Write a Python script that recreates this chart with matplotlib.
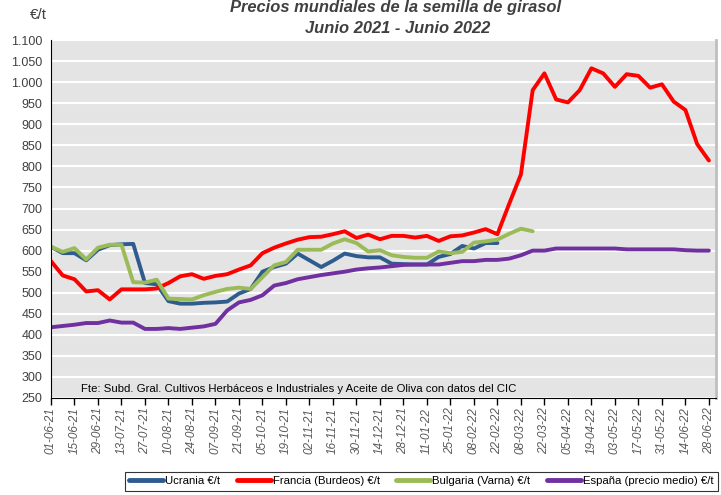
import matplotlib
matplotlib.use("Agg")
import matplotlib.pyplot as plt
from matplotlib.ticker import FuncFormatter, MultipleLocator

# weekly dates, labelled every two weeks
fechas = ["01-06-21", "15-06-21", "29-06-21", "13-07-21", "27-07-21", "10-08-21",
          "24-08-21", "07-09-21", "21-09-21", "05-10-21", "19-10-21", "02-11-21",
          "16-11-21", "30-11-21", "14-12-21", "28-12-21", "11-01-22", "25-01-22",
          "08-02-22", "22-02-22", "08-03-22", "22-03-22", "05-04-22", "19-04-22",
          "03-05-22", "17-05-22", "31-05-22", "14-06-22", "28-06-22"]

ucrania = [609, 594, 594, 577, 602, 613, 615, 616, 523, 520, 480, 474, 474, 476,
           477, 479, 498, 509, 550, 561, 569, 593, 577, 561, 576, 593, 587, 584,
           584, 569, 568, 567, 567, 585, 592, 611, 605, 618, 618]

francia = [575, 541, 532, 503, 506, 484, 508, 508, 508, 510, 523, 539, 544, 533,
           540, 544, 555, 565, 594, 607, 617, 626, 632, 633, 639, 646, 630, 638,
           627, 635, 635, 631, 635, 623, 634, 636, 643, 651, 639, 711, 781, 981,
           1021, 959, 952, 981, 1033, 1021, 989, 1019, 1015, 987, 995, 954, 934,
           853, 814]

bulgaria = [609, 597, 606, 579, 607, 614, 614, 525, 524, 531, 486, 485, 484, 494,
            502, 509, 512, 509, 537, 565, 573, 602, 602, 602, 617, 627, 618, 598,
            601, 589, 585, 583, 583, 598, 594, 597, 619, 622, 626, 640, 652, 646]

espana = [418, 421, 424, 428, 428, 434, 429, 429, 414, 414, 416, 414, 417, 420,
          426, 458, 477, 483, 494, 517, 523, 532, 537, 542, 546, 550, 555, 558,
          560, 563, 566, 567, 567, 567, 571, 575, 575, 578, 578, 581, 589, 600,
          600, 605, 605, 605, 605, 605, 605, 603, 603, 603, 603, 603, 601, 600, 600]

series = [
    ("Ucrania €/t", ucrania, "#2F5C8F"),
    ("Francia (Burdeos) €/t", francia, "#FF0000"),
    ("Bulgaria (Varna) €/t", bulgaria, "#9BBB59"),
    ("España (precio medio) €/t", espana, "#7030A0"),
]

plt.rcParams["font.family"] = ["Liberation Sans", "DejaVu Sans"]

fig = plt.figure(figsize=(7.21, 4.95), dpi=100)
ax = fig.add_axes([0.0707, 0.196, 0.9223, 0.723])
ax.set_facecolor("#E4E4E4")

for nombre, valores, color in series:
    ax.plot(range(len(valores)), valores, color=color, lw=2.8, label=nombre,
            solid_joinstyle="round", solid_capstyle="round")

ax.set_ylim(250, 1100)
ax.set_xlim(0, 56.6)
ax.yaxis.set_major_locator(MultipleLocator(50))
ax.yaxis.set_major_formatter(FuncFormatter(lambda v, p: f"{int(v):,}".replace(",", ".")))
ax.grid(axis="y", color="white", lw=1.5)
ax.set_axisbelow(True)

ax.set_xticks(range(0, 57, 2))
ax.set_xticklabels(fechas, rotation=90, fontstyle="italic", fontsize=8.5, color="#595959")
ax.tick_params(axis="x", direction="out", length=5, width=1, color="black", pad=2)
ax.tick_params(axis="y", length=0, labelsize=9, labelcolor="#404040", pad=6)

ax.spines["top"].set_visible(False)
ax.spines["left"].set_color("black")
ax.spines["bottom"].set_color("black")
ax.spines["right"].set_color("#BFBFBF")
ax.spines["right"].set_linewidth(2)

fig.text(0.548, 0.984, "Precios mundiales de la semilla de girasol", ha="center", va="center",
         fontsize=11.9, fontweight="bold", fontstyle="italic", color="#404040")
fig.text(0.551, 0.943, "Junio 2021 - Junio 2022", ha="center", va="center",
         fontsize=11.9, fontweight="bold", fontstyle="italic", color="#404040")
fig.text(0.053, 0.97, "€/t", ha="center", va="center", fontsize=11, color="#404040")

ax.text(0.045, 0.024, "Fte: Subd. Gral. Cultivos Herbáceos e Industriales y Aceite de Oliva con datos del CIC",
        transform=ax.transAxes, fontsize=8.2, color="black", ha="left", va="center")

leg = fig.legend(loc="upper left", bbox_to_anchor=(0.173, 0.047), ncol=4, fontsize=8.2,
                 frameon=True, fancybox=False, edgecolor="black", handlelength=3.0,
                 handletextpad=0.15, columnspacing=1.45, borderpad=0.4, borderaxespad=0)
leg.get_frame().set_linewidth(0.8)
for linea in leg.get_lines():
    linea.set_linewidth(3.5)

fig.savefig("out.png", dpi=100)
